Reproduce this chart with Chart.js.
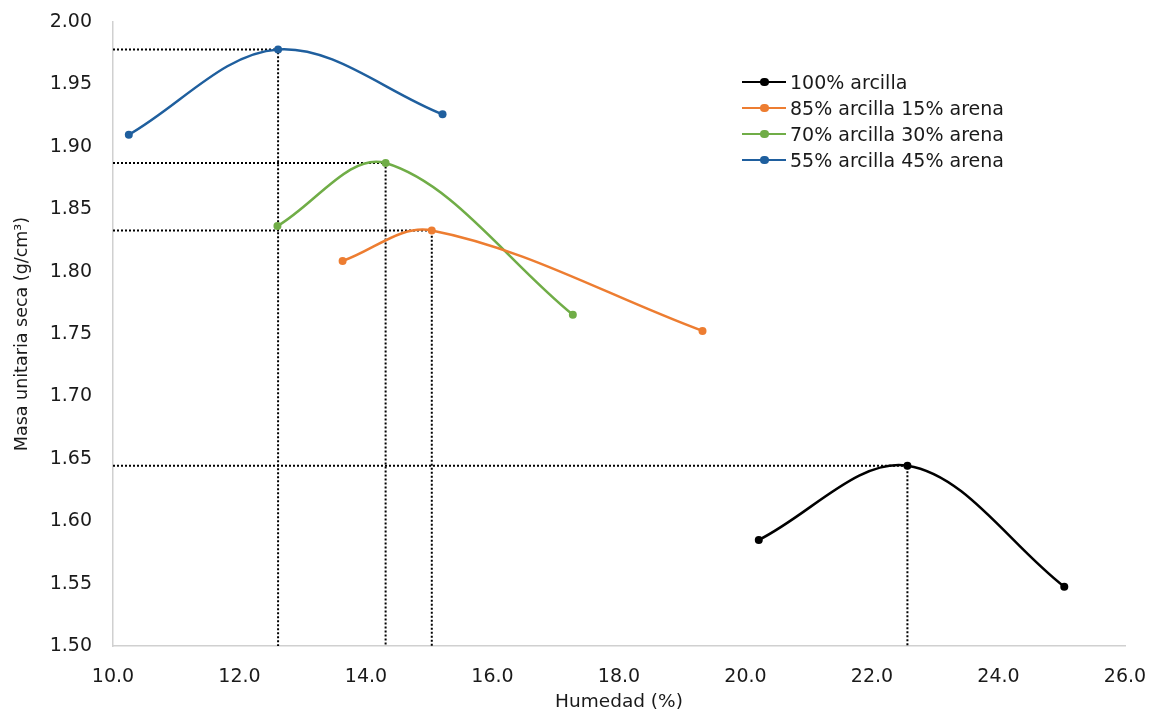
<!DOCTYPE html>
<html>
<head>
<meta charset="utf-8">
<script src="https://cdn.jsdelivr.net/npm/chart.js@4.4.1/dist/chart.umd.min.js"></script>
<style>
  html, body { margin: 0; padding: 0; background: #fff; }
  #wrap { position: relative; width: 1157px; height: 715px; }
  #legend { position: absolute; left: 742px; top: 69px; font-family: "DejaVu Sans", sans-serif; font-size: 19px; color: #1a1a1a; }
  .item { height: 26px; display: flex; align-items: center; white-space: nowrap; }
  .mark { position: relative; width: 44px; height: 2.5px; margin-right: 4px; }
  .mark span { position: absolute; left: 18px; top: -3px; width: 8.5px; height: 8.5px; border-radius: 50%; }
</style>
</head>
<body>
<div id="wrap">
  <canvas id="chart" width="1157" height="715"></canvas>
  <div id="legend"></div>
</div>
<script>
// datos: humedad (%) y masa unitaria seca (g/cm3)
const seriesNames = ["100% arcilla", "85% arcilla 15% arena", "70% arcilla 30% arena", "55% arcilla 45% arena"];
const seriesColors = ["#000000", "#ED7D31", "#70AD47", "#1F5F9E"];

const humedad100 = [20.21, 22.56, 25.04];
const masa100 = [1.585, 1.6445, 1.5475];

const humedad85 = [13.63, 15.04, 19.32];
const masa85 = [1.8085, 1.833, 1.7525];

const humedad70 = [12.60, 14.31, 17.27];
const masa70 = [1.8365, 1.887, 1.7655];

const humedad55 = [10.25, 12.61, 15.21];
const masa55 = [1.9097, 1.978, 1.926];

const xTicks = [10, 12, 14, 16, 18, 20, 22, 24, 26];
const yMin = 1.5, yMax = 2.0, yStep = 0.05;

const allX = [humedad100, humedad85, humedad70, humedad55];
const allY = [masa100, masa85, masa70, masa55];

function toPoints(xs, ys) {
  return xs.map((x, i) => ({ x: x, y: ys[i] }));
}

const datasets = [];
allX.forEach((xs, k) => {
  datasets.push({
    label: seriesNames[k],
    data: toPoints(xs, allY[k]),
    borderColor: seriesColors[k],
    backgroundColor: seriesColors[k],
    borderWidth: 2.5,
    pointRadius: 4,
    pointBorderWidth: 0,
    tension: 0.35,
  });
});

// lineas punteadas hasta el maximo de cada curva
allX.forEach((xs, k) => {
  const ys = allY[k];
  const iMax = ys.indexOf(Math.max(...ys));
  datasets.push({
    label: "",
    data: [
      { x: xTicks[0], y: ys[iMax] },
      { x: xs[iMax], y: ys[iMax] },
      { x: xs[iMax], y: yMin },
    ],
    borderColor: "#000000",
    borderWidth: 2,
    borderDash: [2, 2],
    pointRadius: 0,
    tension: 0,
  });
});

const fam = "'DejaVu Sans', sans-serif";
const font = { family: fam, size: 19 };

new Chart(document.getElementById("chart"), {
  type: "line",
  data: { datasets: datasets },
  options: {
    responsive: false,
    animation: false,
    layout: { padding: { top: 22, right: 32, left: 0, bottom: 0 } },
    plugins: { legend: { display: false }, tooltip: { enabled: false } },
    scales: {
      x: {
        type: "linear",
        min: xTicks[0],
        max: xTicks[xTicks.length - 1],
        afterBuildTicks: (s) => { s.ticks = xTicks.map((v) => ({ value: v })); },
        afterFit: (s) => { s.height = 69; s.paddingLeft = 0; s.paddingRight = 0; },
        grid: { display: false, drawTicks: false },
        border: { color: "#d0d0d0", width: 1.5 },
        ticks: { color: "#1a1a1a", font: font, padding: 20, callback: (v) => Number(v).toFixed(1) },
        title: { display: true, text: "Humedad (%)", color: "#1a1a1a", font: { family: fam, size: 18.5 }, padding: { top: 0, bottom: 2 } },
      },
      y: {
        min: yMin,
        max: yMax,
        afterFit: (s) => { s.width = 113; s.paddingTop = 0; s.paddingBottom = 0; },
        grid: { display: false, drawTicks: false },
        border: { color: "#d0d0d0", width: 1.5 },
        ticks: { stepSize: yStep, color: "#1a1a1a", font: font, padding: 21, callback: (v) => Number(v).toFixed(2) },
        title: { display: true, text: "Masa unitaria seca (g/cm³)", color: "#1a1a1a", font: { family: fam, size: 17.5 }, padding: { top: 12, bottom: 0 } },
      },
    },
  },
});

// leyenda
const legend = document.getElementById("legend");
seriesNames.forEach((name, k) => {
  const row = document.createElement("div");
  row.className = "item";
  const mark = document.createElement("div");
  mark.className = "mark";
  mark.style.background = seriesColors[k];
  const dot = document.createElement("span");
  dot.style.background = seriesColors[k];
  mark.appendChild(dot);
  const txt = document.createElement("span");
  txt.textContent = name;
  row.appendChild(mark);
  row.appendChild(txt);
  legend.appendChild(row);
});
</script>
</body>
</html>
